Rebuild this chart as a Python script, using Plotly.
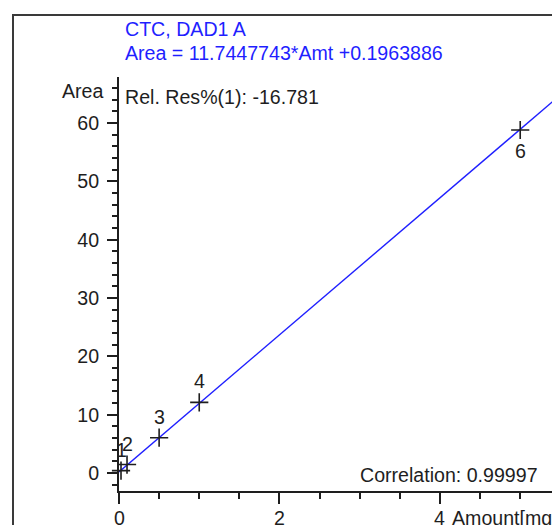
import plotly.graph_objects as go

# Calibration data (CTC, DAD1 A)
levels = ["1", "2", "3", "4", "6"]
amounts = [0.025, 0.1, 0.5, 1.0, 5.0]
areas = [0.41, 1.45, 6.05, 12.1, 58.8]
label_side = [1, 1, 1, 1, -1]  # +1 label above the point, -1 below

x_ticks = [0, 2, 4]
y_ticks = [0, 10, 20, 30, 40, 50, 60]

slope = 11.7447743
intercept = 0.1963886
fit_x = [0.0, 6.0]
fit_y = [slope * v + intercept for v in fit_x]

W, H = 552, 525
L, R, T, B = 119, 0, 77, 34
FONT = "Liberation Sans, Arial, sans-serif"
FS = 19.6
INK = "#1e1e1e"
BLUE = "#1f1fff"


def px(x):
    return (x - L) / (W - L - R)


def py(y):
    return (H - B - y) / (H - T - B)


fig = go.Figure()
fig.add_trace(go.Scatter(x=fit_x, y=fit_y, mode="lines",
                         line=dict(color=BLUE, width=1.4), hoverinfo="skip"))
fig.add_trace(go.Scatter(x=amounts, y=areas, mode="markers",
                         marker=dict(symbol="cross-thin", size=13,
                                     line=dict(color=INK, width=1.6)),
                         cliponaxis=False))

for lv, a, ar, s in zip(levels, amounts, areas, label_side):
    fig.add_annotation(x=a, y=ar, text=lv, showarrow=False, yshift=21 * s,
                       font=dict(family=FONT, size=FS, color=INK))

# x tick labels, set a little tighter to the axis than the default placement
for v in x_ticks:
    fig.add_annotation(x=v, xref="x", yref="paper", y=py(518), text=str(v),
                       showarrow=False, yanchor="middle",
                       font=dict(family=FONT, size=FS, color=INK))

texts = [
    ("CTC, DAD1 A", 123, 29, "left", BLUE),
    ("Area = 11.7447743*Amt +0.1963886", 123, 53, "left", BLUE),
    ("Rel. Res%(1): -16.781", 123, 97, "left", INK),
    ("Area", 105, 91, "right", INK),
    ("Correlation: 0.99997", 540, 475, "right", INK),
    ("Amount[mg/ml]", 450, 518, "left", INK),
]
for t, x, y, anc, col in texts:
    fig.add_annotation(xref="paper", yref="paper", x=px(x), y=py(y), text=t,
                       showarrow=False, xanchor=anc, yanchor="middle",
                       font=dict(family=FONT, size=FS, color=col))

# outer frame (continues past the right and bottom edges)
fig.add_shape(type="rect", xref="paper", yref="paper",
              x0=px(13), x1=px(700), y0=py(700), y1=py(15),
              line=dict(color="#3a3a3a", width=2))

fig.update_xaxes(range=[0, 5.396], tickvals=x_ticks, showticklabels=False,
                 ticks="outside", ticklen=11, tickwidth=1.6, tickcolor=INK,
                 minor=dict(dtick=0.5, tick0=0, ticks="outside", ticklen=6,
                            tickwidth=1.6, tickcolor=INK, showgrid=False),
                 showline=True, linecolor=INK, linewidth=2, showgrid=False,
                 zeroline=False, automargin=False, fixedrange=True)
fig.update_yaxes(range=[-3.086, 67.886], tickvals=y_ticks,
                 ticks="outside", ticklen=10, tickwidth=1.6, tickcolor=INK,
                 minor=dict(dtick=2, tick0=0, ticks="outside", ticklen=5,
                            tickwidth=1.6, tickcolor=INK, showgrid=False),
                 showline=True, linecolor=INK, linewidth=2, showgrid=False,
                 zeroline=False, tickfont=dict(family=FONT, size=FS, color=INK),
                 ticklabelstandoff=4, automargin=False, fixedrange=True)

fig.update_layout(width=W, height=H, margin=dict(l=L, r=R, t=T, b=B, autoexpand=False),
                  paper_bgcolor="white", plot_bgcolor="white", showlegend=False)

fig.write_html("out.html")
